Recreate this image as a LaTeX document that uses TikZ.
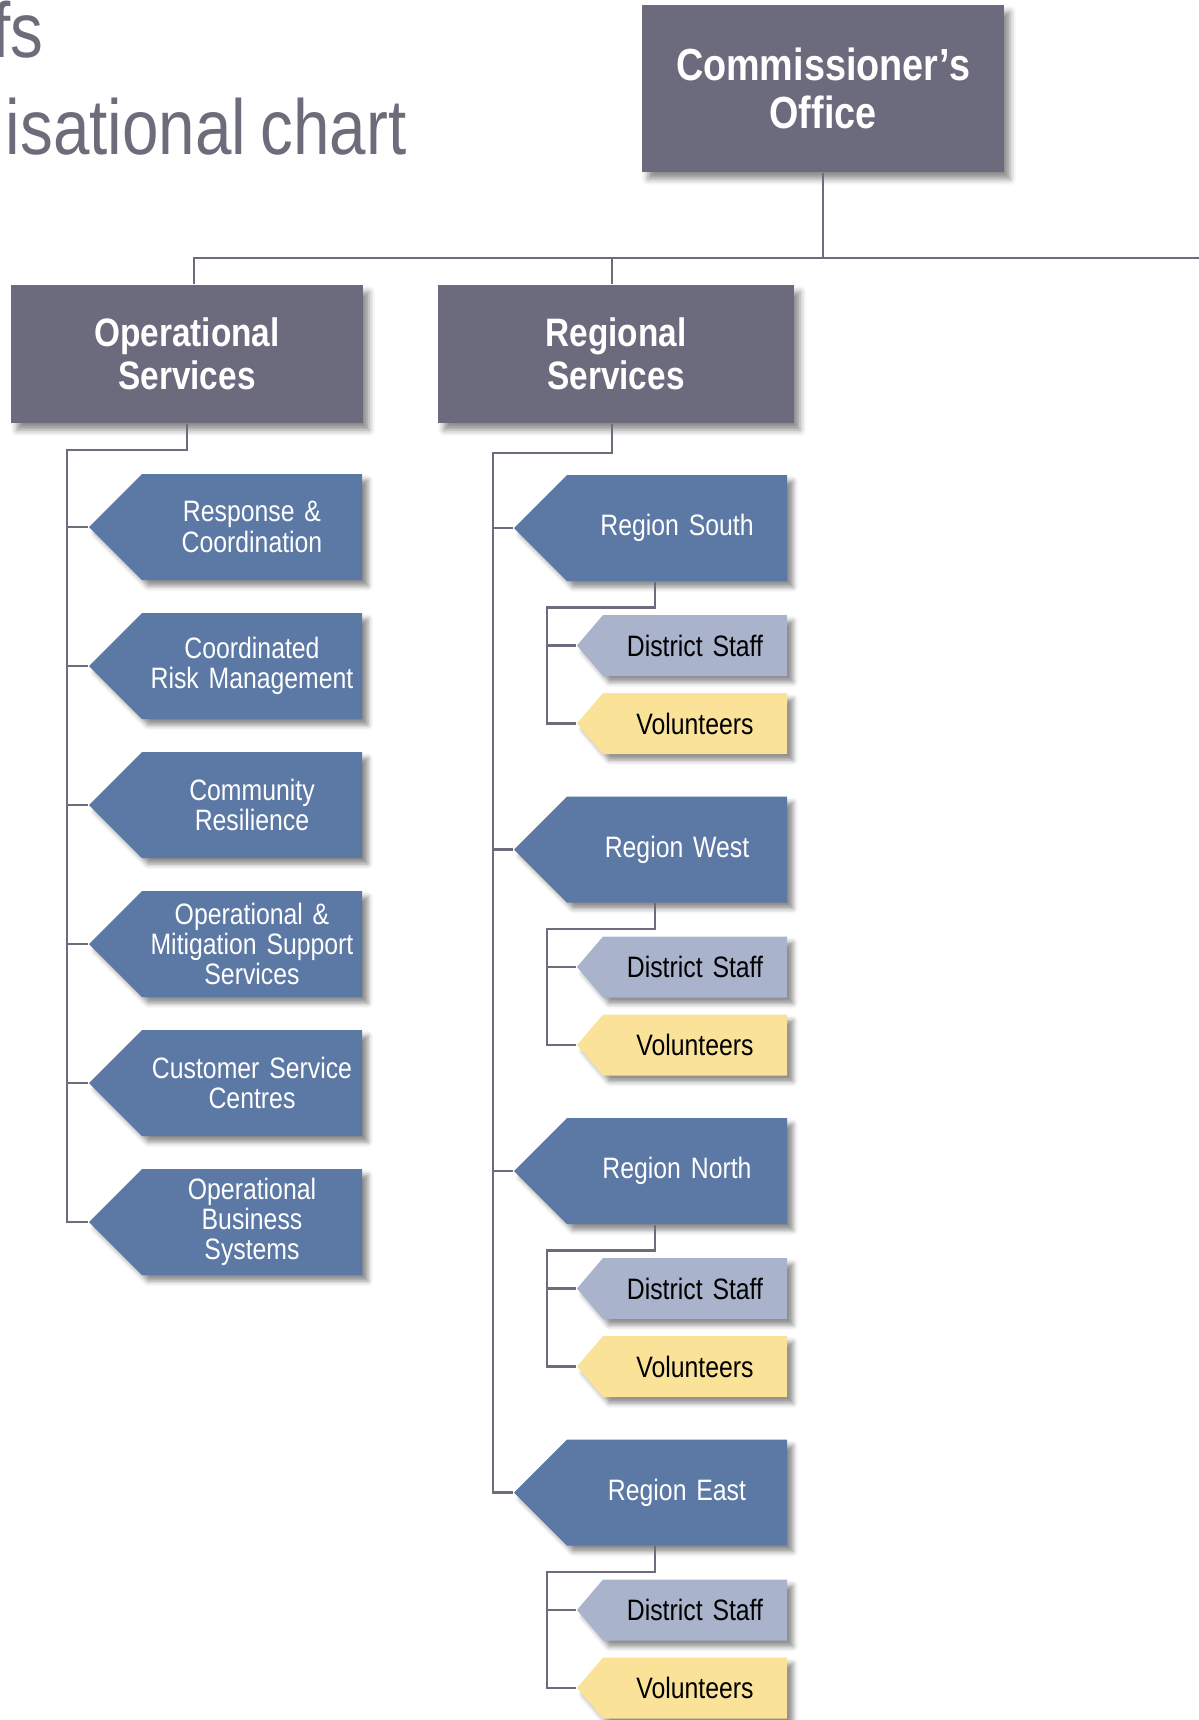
\documentclass[tikz,border=0pt]{standalone}
\usepackage{fontspec}
\setmainfont[FakeStretch=0.84, WordSpace=0.8]{Liberation Sans}
\usetikzlibrary{positioning}
\usetikzlibrary{shapes.symbols,shadows.blur}

\definecolor{boxgray}{HTML}{6C6A7D}
\definecolor{unitblue}{HTML}{5C79A5}
\definecolor{staffblue}{HTML}{A9B4CC}
\definecolor{volyellow}{HTML}{FAE399}
\definecolor{linegray}{HTML}{6D6C7C}
\definecolor{titlegray}{HTML}{6C6C7A}

\tikzstyle{title} = [text=titlegray, inner sep=0pt,
    font=\fontsize{22.2}{24}\selectfont]
\tikzstyle{head} = [rectangle, fill=boxgray, text=white, align=center,
    font=\bfseries\fontsize{11.3}{12.2}\selectfont, minimum height=1.38cm,
    blur shadow={shadow xshift=0.6mm, shadow yshift=-0.7mm, shadow blur radius=0.6mm, shadow opacity=45}]
\tikzstyle{unit} = [signal, signal to=west, signal pointer angle=90,
    fill=unitblue, text=white, text width=2.2cm, align=center, inner sep=0pt,
    minimum height=1.06cm, font=\fontsize{8.4}{8.6}\selectfont,
    blur shadow={shadow xshift=0.6mm, shadow yshift=-0.6mm, shadow blur radius=0.5mm, shadow opacity=45}]
\tikzstyle{staff} = [unit, signal pointer angle=99, fill=staffblue, text=black,
    text width=1.84cm, minimum height=0.61cm]
\tikzstyle{vol} = [staff, fill=volyellow]
\tikzstyle{line} = [draw=linegray, line width=0.7pt]

\begin{document}
\begin{tikzpicture}[node distance = 3cm, auto]
    \useasboundingbox (0,0) rectangle (11.99,-17.2);
    \clip (0,0) rectangle (11.99,-17.2);
    % Title
    \node [title, anchor=base east] at (0.44,-0.57) (tit1) {fs};
    \node [title, anchor=base west] at (0.05,-1.54) (tit2) {isational chart};

    % Place nodes
    \node [head, minimum width=3.62cm, minimum height=1.67cm,
        font=\bfseries\fontsize{12.8}{13.7}\selectfont] at (8.23,-0.885) (co) {Commissioner’s\\Office};
    \node [head, minimum width=3.52cm] at (1.87,-3.54) (ops) {Operational\\Services};
    \node [head, minimum width=3.56cm, right of=ops, node distance=4.29cm] (reg) {Regional\\Services};

    \node [unit] at (2.52,-5.27) (resp) {Response \&\\Coordination};
    \node [unit, below of=resp, node distance=1.39cm] (risk) {Coordinated\\Risk Management};
    \node [unit, below of=risk, node distance=1.39cm] (comm) {Community\\Resilience};
    \node [unit, below of=comm, node distance=1.39cm] (mitig) {Operational \&\\Mitigation Support\\Services};
    \node [unit, below of=mitig, node distance=1.39cm] (csc) {Customer Service\\Centres};
    \node [unit, below of=csc, node distance=1.39cm] (obs) {Operational\\Business\\Systems};

    \node [unit] at (6.77,-5.28) (rs) {Region South};
    \node [staff, below of=rs, node distance=1.175cm, xshift=1.8mm] (rsd) {District Staff};
    \node [vol, below of=rsd, node distance=0.78cm] (rsv) {Volunteers};
    \node [unit, below of=rs, node distance=3.215cm] (rw) {Region West};
    \node [staff, below of=rw, node distance=1.175cm, xshift=1.8mm] (rwd) {District Staff};
    \node [vol, below of=rwd, node distance=0.78cm] (rwv) {Volunteers};
    \node [unit, below of=rw, node distance=3.215cm] (rn) {Region North};
    \node [staff, below of=rn, node distance=1.175cm, xshift=1.8mm] (rnd) {District Staff};
    \node [vol, below of=rnd, node distance=0.78cm] (rnv) {Volunteers};
    \node [unit, below of=rn, node distance=3.215cm] (re) {Region East};
    \node [staff, below of=re, node distance=1.175cm, xshift=1.8mm] (red) {District Staff};
    \node [vol, below of=red, node distance=0.78cm] (rev) {Volunteers};

    \coordinate (bar) at (8.23,-2.58);
    \coordinate (barend) at (11.99,-2.58);
    \coordinate (opsbus) at (0.67,-4.50);
    \coordinate (regbus) at (4.93,-4.53);

    % Draw edges
    \path [line] (co.south) -- (bar);
    \path [line] ([xshift=0.7mm]ops.north) |- (barend);
    \path [line] ([xshift=-0.4mm]bar -| reg.north) -- ([xshift=-0.4mm]reg.north);

    \path [line] (ops.south) |- (opsbus) |- (obs.west);
    \path [line] (opsbus |- resp.west) -- (resp.west);
    \path [line] (opsbus |- risk.west) -- (risk.west);
    \path [line] (opsbus |- comm.west) -- (comm.west);
    \path [line] (opsbus |- mitig.west) -- (mitig.west);
    \path [line] (opsbus |- csc.west) -- (csc.west);

    \path [line] ([xshift=-0.4mm]reg.south) |- (regbus) |- (re.west);
    \path [line] (regbus |- rs.west) -- (rs.west);
    \path [line] (regbus |- rw.west) -- (rw.west);
    \path [line] (regbus |- rn.west) -- (rn.west);

    \path [line] ([xshift=-2.2mm]rs.south) -- ++(0,-0.26) -| ([xshift=-2.9mm]rsv.west) -- (rsv.west);
    \path [line] ([xshift=-2.9mm]rsd.west) -- (rsd.west);
    \path [line] ([xshift=-2.2mm]rw.south) -- ++(0,-0.26) -| ([xshift=-2.9mm]rwv.west) -- (rwv.west);
    \path [line] ([xshift=-2.9mm]rwd.west) -- (rwd.west);
    \path [line] ([xshift=-2.2mm]rn.south) -- ++(0,-0.26) -| ([xshift=-2.9mm]rnv.west) -- (rnv.west);
    \path [line] ([xshift=-2.9mm]rnd.west) -- (rnd.west);
    \path [line] ([xshift=-2.2mm]re.south) -- ++(0,-0.26) -| ([xshift=-2.9mm]rev.west) -- (rev.west);
    \path [line] ([xshift=-2.9mm]red.west) -- (red.west);
\end{tikzpicture}
\end{document}
